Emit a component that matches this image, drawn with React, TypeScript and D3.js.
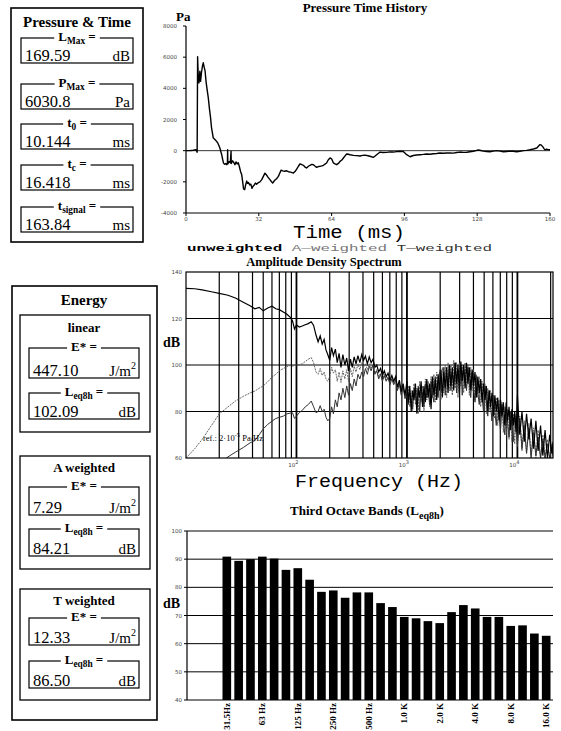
import React, { useEffect, useRef } from "react";
import * as d3 from "d3";

// ---------------- DATA ----------------
const timeMs = [0, 2, 3.2, 4.4, 4.9, 5.1, 5.4, 5.7, 6.1, 6.4, 6.8, 7.2, 7.6, 8.0, 8.4, 8.8, 9.3, 9.8, 10.3, 10.8, 11.2, 11.6, 12.0, 12.4, 12.8, 13.2, 13.6, 14.0, 14.4, 14.9, 15.3, 15.7, 16.1, 16.5, 17.0, 17.5, 17.9, 18.2, 18.3, 18.4, 19.0, 19.5, 19.8, 19.9, 20.5, 21.0, 21.5, 22.0, 22.5, 23.0, 23.5, 24.0, 24.5, 25.0, 25.3, 25.8, 26.2, 26.7, 27.1, 27.5, 28.0, 28.5, 29.0, 29.4, 30.0, 30.5, 31.0, 31.8, 32.5, 33.3, 34.0, 34.7, 35.3, 36.0, 36.9, 37.5, 38.1, 39.0, 39.8, 40.6, 41.2, 41.8, 42.5, 43.3, 44.2, 45.0, 46.0, 47.2, 48.0, 48.6, 49.4, 50.1, 50.9, 51.6, 52.3, 53.0, 53.8, 54.5, 55.3, 56.0, 56.8, 57.4, 58.2, 58.9, 59.7, 60.4, 61.1, 61.8, 62.5, 63.3, 64.0, 64.8, 65.5, 66.2, 67.0, 67.7, 68.5, 69.2, 70.0, 70.6, 71.4, 72.1, 73.6, 75.0, 76.5, 77.6, 78.7, 80.0, 80.9, 82.3, 83.0, 83.8, 85.3, 86.5, 88.2, 89.6, 91.1, 92.6, 94.1, 95.5, 96.2, 97.0, 98.5, 99.9, 101.4, 102.9, 104.3, 105.8, 107.3, 108.7, 110.2, 111.6, 113.1, 114.6, 116.0, 117.5, 119.0, 120.4, 121.9, 123.4, 124.8, 126.3, 127.4, 128.5, 129.6, 130.7, 132.1, 133.6, 135.1, 136.6, 138.0, 139.5, 141.0, 142.4, 143.9, 145.3, 146.8, 148.3, 149.7, 151.2, 152.7, 154.2, 155.0, 155.6, 156.2, 156.8, 157.3, 157.8, 158.5, 159.2, 160];
const pressurePa = [0, 10, 30, 60, -100, 6030, 4700, 4350, 5100, 4450, 5000, 5400, 5640, 5350, 5100, 4450, 3900, 3390, 2700, 2100, 1500, 1140, 810, 760, 700, 640, 560, 480, 350, 170, -50, -260, -550, -800, -880, -820, -900, -850, 60, -840, -700, -780, -40, -820, -650, -760, -900, -720, -850, -780, -1050, -1350, -1550, -2100, -2450, -2500, -2200, -1950, -2100, -2050, -2200, -2150, -2420, -2300, -2200, -2080, -2150, -2050, -2000, -1860, -1650, -1440, -1540, -1700, -1860, -1980, -2080, -1900, -1800, -1650, -1450, -1250, -1300, -1320, -1290, -1350, -1380, -1440, -1320, -1200, -1000, -840, -900, -940, -1050, -1110, -1000, -940, -880, -900, -1000, -1070, -1020, -1010, -980, -940, -860, -790, -600, -470, -520, -790, -850, -900, -820, -690, -600, -470, -320, -210, -230, -260, -300, -320, -340, -300, -290, -330, -360, -430, -360, -260, -90, -120, -110, -80, -90, -60, -40, -50, -150, -260, -390, -310, -280, -260, -240, -210, -230, -200, -180, -150, -170, -150, -140, -160, -120, -90, -110, -100, -70, -40, 0, 40, 10, -30, -50, -70, -30, 0, -30, -70, -50, -30, -40, -70, -40, 0, 20, 60, 110, 170, 300, 390, 350, 260, 150, 50, 90, 70, 60];
const pressureTicks = [8000, 6000, 4000, 2000, 0, -2000, -4000];
const timeTicks = [0, 32, 64, 96, 128, 160];

const specFreq = [
  10, 12, 14, 17, 20, 24, 28, 33, 38, 42, 46, 50, 55, 60, 65, 70, 76, 82, 88, 92, 96, 100, 106, 113, 120, 128, 136, 143, 150, 157, 164, 171, 178, 185, 192,
  200, 208, 216, 225, 234, 243, 253, 263, 274, 285, 296, 308, 320, 333, 346, 360, 375, 390, 405, 421, 438, 456, 474, 493, 513, 533, 555, 577, 600, 624, 649, 675, 702, 730, 759, 790, 821, 854, 888, 924, 961,
  1000, 1030, 1061, 1093, 1126, 1159, 1194, 1230, 1267, 1305, 1344, 1384, 1426, 1469, 1513, 1558, 1605, 1653, 1702, 1754, 1806, 1860, 1916, 1974, 2033, 2094, 2157, 2221, 2288, 2357, 2427, 2500, 2575, 2652, 2732, 2814, 2898, 2985, 3075, 3167, 3262, 3360, 3461, 3565, 3671, 3782, 3895, 4012, 4132, 4256, 4384, 4515, 4651, 4790, 4934, 5082, 5235, 5392, 5553, 5720, 5892, 6068, 6250, 6438, 6631, 6830, 7035, 7246, 7463, 7687, 7918, 8155, 8400, 8652, 8912, 9179, 9454, 9738,
  10000, 10500, 11000, 11550, 12100, 12700, 13300, 14000, 14700, 15400, 16200, 17000, 17800, 18700, 19600, 20500, 21000];
const specUnweighted = [
  133, 132.8, 132.3, 131.5, 130.8, 130, 128.8, 127, 125.5, 124.2, 124.8, 123.3, 124.5, 125.3, 124.2, 123.8, 122.8, 121.8, 120.5, 119, 115.5, 117.2, 116.3, 116.8, 117.3, 117.8, 118.6, 117, 113, 110, 112.5, 109, 111, 106.5, 104.5,
  102, 107.5, 104, 106.8, 101, 105, 99, 104.5, 100, 103, 97.5, 102.5, 99, 103.5, 100.5, 104, 101, 104.5, 102, 103.8, 100.5, 103.5, 101, 102.5, 99, 100, 97, 98.5, 95.5, 97.5, 95, 96.5, 93.5, 95.5, 93, 95, 90.5, 93.5, 88.5, 92, 87,
  93, 84, 91, 80, 89, 85, 92, 79, 90, 86, 93, 82, 91, 84, 94, 86, 92, 81, 95, 87, 94, 85, 96, 89, 98, 86, 97, 90, 99, 88, 100, 91, 99, 89, 101, 92, 100, 88, 101.5, 93, 100, 90, 101, 92, 99, 89, 98, 91, 97, 86, 95, 88, 94, 84, 92, 85, 91, 80, 89, 82, 88, 78, 87, 80, 86, 76, 85, 78, 84, 74, 84, 76, 82, 72, 81, 74, 80, 71,
  87, 70, 80, 67, 79, 68, 77, 64, 76, 63, 74, 61, 72, 60, 70, 62, 67];
const specAWeighted = [
  60, 64, 68, 74, 79, 82, 84.5, 86.5, 88, 88.8, 90, 91, 92.8, 94.8, 96, 97.5, 98.5, 99.3, 99.8, 99.5, 99.8, 100, 100.2, 100.5, 101.5, 102.5, 103.2, 101, 97, 96, 98.5, 95.5, 97, 94, 93,
  95, 99, 96.5, 98, 93, 97, 92.5, 97.5, 94, 98, 93, 98.5, 95, 99.5, 97, 100.5, 98, 101, 99, 100.5, 98, 100.5, 98.5, 100, 96.5, 98, 95, 96.5, 93.5, 96, 93.5, 95, 92, 94.5, 92, 94, 89.5, 92.5, 87.5, 91, 86,
  86, 91, 82, 89, 80, 92, 83, 90, 79, 93, 84, 91, 80, 94, 85, 93, 82, 95, 86, 96, 84, 97, 87, 98, 85, 99, 88, 100, 86, 101, 89, 100, 87, 102, 90, 101, 86, 101, 91, 100, 88, 101, 90, 100, 87, 99, 89, 98, 85, 96, 86, 95, 82, 93, 83, 92, 79, 90, 80, 89, 76, 87, 77, 86, 74, 85, 73, 84, 71, 82, 70, 81, 68, 80, 67, 79, 66, 78,
  65, 78, 63, 76, 62, 75, 61, 73, 60, 72, 60, 70, 60, 68, 60, 66, 60];
const specTWeighted = [
  45, 48, 51, 54.5, 57.5, 60.5, 62.5, 64.5, 66.5, 67.5, 70, 72.5, 74.5, 75.8, 77, 77.5, 78, 79, 79.3, 79.5, 77, 78, 79.5, 80.5, 82, 83, 84.5, 82, 79.5, 80, 82.5, 80, 81, 77.5, 76,
  77, 82, 79, 85, 82, 88, 85, 90, 86, 91, 87, 92, 89, 94, 91, 96, 94, 97, 95, 98.5, 96, 99.5, 97.5, 100, 96, 97.5, 94, 96, 93, 95.5, 93, 94.5, 91.5, 94, 91.5, 93.5, 89, 92, 87, 90.5, 85.5,
  90, 83, 88, 86, 81, 90, 87, 84, 91, 80, 89, 88, 82, 92, 86, 90, 83, 93, 88, 84, 95, 89, 86, 97, 90, 88, 99, 87, 95, 91, 100, 89, 97, 92, 101, 88, 98, 93, 100, 87, 99, 94, 89, 99, 92, 86, 97, 90, 84, 95, 88, 83, 93, 86, 80, 91, 84, 78, 89, 82, 76, 87, 80, 74, 85, 78, 72, 83, 76, 70, 82, 75, 69, 80, 73, 67, 79, 72,
  66, 77, 64, 74, 62, 73, 60, 71, 61, 69, 60, 68, 60, 66, 60, 64, 61];
const specDbTicks = [140, 120, 100, 80, 60];
const specGridFreqs = [20, 30, 40, 50, 60, 70, 80, 90, 100, 200, 300, 400, 500, 600, 700, 800, 900, 1000, 2000, 3000, 4000, 5000, 6000, 7000, 8000, 9000, 10000, 20000];
const specDecades = [100, 1000, 10000];
const specDecadeExponents = ["2", "3", "4"];

const bandNames = ["31.5", "40", "50", "63", "80", "100", "125", "160", "200", "250", "315", "400", "500", "630", "800", "1k", "1.25k", "1.6k", "2k", "2.5k", "3.15k", "4k", "5k", "6.3k", "8k", "10k", "12.5k", "16k"];
const bandLevels = [90.9, 89.4, 90.0, 90.9, 90.2, 86.2, 86.8, 82.7, 78.4, 78.9, 76.3, 78.2, 78.2, 74.4, 73.0, 69.5, 69.0, 68.0, 67.3, 71.2, 73.7, 72.5, 69.5, 69.5, 66.3, 66.5, 63.6, 62.8];
const bandTickLabels = ["31.5Hz", "", "", "63 Hz", "", "", "125 Hz", "", "", "250 Hz", "", "", "500 Hz", "", "", "1.0 K", "", "", "2.0 K", "", "", "4.0 K", "", "", "8.0 K", "", "", "16.0 K"];
const bandDbTicks = [100, 90, 80, 70, 60, 50, 40];

const ptSymbols = ["L", "P", "t", "t", "t"];
const ptSubs = ["Max", "Max", "0", "c", "signal"];
const ptValues = ["169.59", "6030.8", "10.144", "16.418", "163.84"];
const ptUnits = ["dB", "Pa", "ms", "ms", "ms"];

const energyTitles = ["linear", "A weighted", "T weighted"];
const energyE = ["447.10", "7.29", "12.33"];
const energyLeq = ["102.09", "84.21", "86.50"];

// ---------------- LAYOUT ----------------
const SERIF = "'Liberation Serif', 'Times New Roman', serif";
const MONO = "'Liberation Mono', 'Courier New', monospace";
const TICKF = "'DejaVu Sans', sans-serif";

const ptBoxTops = [38, 84, 124, 165, 207];
const energyLayout = [
  { top: 315, bottom: 432, title: 332, eTop: 348, eBot: 378, lTop: 393, lBot: 419 },
  { top: 456, bottom: 569, title: 472, eTop: 487, eBot: 515, lTop: 529, lBot: 556 },
  { top: 589, bottom: 700, title: 605, eTop: 618, eBot: 645, lTop: 661, lBot: 688 },
];

type Part = { t: string; sub?: boolean };

export default function App() {
  const ref = useRef<SVGSVGElement>(null);
  useEffect(() => {
    document.body.style.margin = "0";
    const svg = d3.select(ref.current!);
    svg.selectAll("*").remove();
    svg.append("rect").attr("width", 561).attr("height", 731).attr("fill", "#fff");

    const rect = (g: any, x: number, y: number, w: number, h: number, sw = 1.3) =>
      g.append("rect").attr("x", x).attr("y", y).attr("width", w).attr("height", h)
        .attr("fill", "none").attr("stroke", "#000").attr("stroke-width", sw);

    const boxLabel = (g: any, cx: number, baseline: number, parts: Part[], size: number) => {
      const t = g.append("text").attr("x", cx).attr("y", baseline).attr("text-anchor", "middle")
        .attr("font-family", SERIF).attr("font-weight", "bold").attr("font-size", size);
      let shift = 0;
      parts.forEach((p) => {
        const target = p.sub ? 3.5 : 0;
        t.append("tspan").text(p.t).attr("dy", target - shift).attr("font-size", p.sub ? size * 0.72 : size);
        shift = target;
      });
      const bb = (t.node() as SVGTextElement).getBBox();
      g.insert("rect", () => t.node()).attr("x", bb.x - 4).attr("y", bb.y + 2).attr("width", bb.width + 8)
        .attr("height", bb.height - 4).attr("fill", "#fff");
    };

    const valueBox = (g: any, x: number, w: number, top: number, bot: number, parts: Part[], value: string, unit: string, sup?: string) => {
      rect(g, x, top, w, bot - top, 1.2);
      boxLabel(g, x + w / 2, top + 2.5, parts, 13);
      g.append("text").attr("x", x + 4).attr("y", bot - 2).attr("font-family", SERIF)
        .attr("font-size", 16.5).text(value);
      const u = g.append("text").attr("x", x + w - 3).attr("y", bot - 2).attr("text-anchor", "end")
        .attr("font-family", SERIF).attr("font-size", 15);
      u.append("tspan").text(unit);
      if (sup) u.append("tspan").text(sup).attr("dy", -7).attr("font-size", 10);
    };

    // ---------- Pressure & Time panel ----------
    const pt = svg.append("g");
    rect(pt, 11, 8, 132, 234, 1.6);
    pt.append("text").attr("x", 77).attr("y", 27).attr("text-anchor", "middle").attr("font-family", SERIF)
      .attr("font-weight", "bold").attr("font-size", 15).text("Pressure & Time");
    ptValues.forEach((v, i) => {
      const top = ptBoxTops[i];
      valueBox(pt, 21, 112, top, top + 25, [{ t: ptSymbols[i] }, { t: ptSubs[i], sub: true }, { t: " =" }], v, ptUnits[i]);
    });

    // ---------- Energy panel ----------
    const en = svg.append("g");
    rect(en, 12, 286, 145, 434, 1.6);
    en.append("text").attr("x", 84).attr("y", 305).attr("text-anchor", "middle").attr("font-family", SERIF)
      .attr("font-weight", "bold").attr("font-size", 15).text("Energy");
    energyTitles.forEach((title, i) => {
      const L = energyLayout[i];
      rect(en, 20, L.top, 130, L.bottom - L.top, 1.3);
      en.append("text").attr("x", 84).attr("y", L.title).attr("text-anchor", "middle").attr("font-family", SERIF)
        .attr("font-weight", "bold").attr("font-size", 13).text(title);
      valueBox(en, 29, 110, L.eTop, L.eBot, [{ t: "E* =" }], energyE[i], "J/m", "2");
      valueBox(en, 29, 110, L.lTop, L.lBot, [{ t: "L" }, { t: "eq8h", sub: true }, { t: " =" }], energyLeq[i], "dB");
    });

    // ---------- Pressure time history ----------
    const xp = d3.scaleLinear().domain([0, 160]).range([186, 550]);
    const yp = d3.scaleLinear().domain([-4000, 8000]).range([213, 26]);
    const ph = svg.append("g");
    ph.append("text").attr("x", 365).attr("y", 12).attr("text-anchor", "middle").attr("font-family", SERIF)
      .attr("font-weight", "bold").attr("font-size", 13).text("Pressure Time History");
    ph.append("text").attr("x", 176).attr("y", 21).attr("font-family", SERIF).attr("font-weight", "bold")
      .attr("font-size", 13).text("Pa");
    ph.append("line").attr("x1", xp(0)).attr("x2", xp(0)).attr("y1", yp(8000)).attr("y2", yp(-4000)).attr("stroke", "#000").attr("stroke-width", 1.2);
    ph.append("line").attr("x1", xp(0)).attr("x2", xp(160)).attr("y1", yp(-4000)).attr("y2", yp(-4000)).attr("stroke", "#000").attr("stroke-width", 1.2);
    ph.append("line").attr("x1", xp(0)).attr("x2", xp(160)).attr("y1", yp(0)).attr("y2", yp(0)).attr("stroke", "#000").attr("stroke-width", 0.8);
    pressureTicks.forEach((v) => {
      ph.append("line").attr("x1", xp(0) - 3).attr("x2", xp(0)).attr("y1", yp(v)).attr("y2", yp(v)).attr("stroke", "#000");
      ph.append("text").attr("x", 177).attr("y", yp(v) + 2).attr("text-anchor", "end").attr("font-family", TICKF)
        .attr("font-size", 5.5).attr("fill", "#444").text(String(v));
    });
    timeTicks.forEach((v) => {
      ph.append("line").attr("x1", xp(v)).attr("x2", xp(v)).attr("y1", yp(-4000)).attr("y2", yp(-4000) + 3).attr("stroke", "#000");
      ph.append("text").attr("x", xp(v)).attr("y", 221).attr("text-anchor", "middle").attr("font-family", TICKF)
        .attr("font-size", 5.5).attr("fill", "#444").text(String(v));
    });
    const pline = d3.line<number>().x((_, i) => xp(timeMs[i])).y((d) => yp(d));
    ph.append("path").attr("d", pline(pressurePa)!).attr("fill", "none").attr("stroke", "#000").attr("stroke-width", 1.4)
      .attr("stroke-linejoin", "round");
    svg.append("text").attr("x", 349).attr("y", 238).attr("text-anchor", "middle").attr("font-family", MONO)
      .attr("font-size", 18).attr("textLength", 112).attr("lengthAdjust", "spacingAndGlyphs").text("Time (ms)");

    // ---------- Amplitude density spectrum ----------
    const xs = d3.scaleLog().domain([10, 21000]).range([186, 553]);
    const ys = d3.scaleLinear().domain([60, 140]).range([458, 272]);
    const sp = svg.append("g");
    const leg = sp.append("text").attr("x", 187).attr("y", 251).attr("font-family", MONO).attr("font-size", 9.5)
      .attr("textLength", 305).attr("lengthAdjust", "spacingAndGlyphs");
    leg.append("tspan").text("unweighted ").attr("font-weight", "bold").attr("fill", "#000");
    leg.append("tspan").text("A\u2014weighted ").attr("fill", "#777");
    leg.append("tspan").text("T\u2014weighted").attr("fill", "#333");
    sp.append("text").attr("x", 324).attr("y", 266).attr("text-anchor", "middle").attr("font-family", SERIF)
      .attr("font-weight", "bold").attr("font-size", 12.5).text("Amplitude Density Spectrum");
    sp.append("text").attr("x", 163).attr("y", 347).attr("font-family", SERIF).attr("font-weight", "bold")
      .attr("font-size", 14).text("dB");

    svg.append("defs").append("clipPath").attr("id", "specClip").append("rect")
      .attr("x", 186).attr("y", 272).attr("width", 553 - 186).attr("height", 458 - 272);
    const plot = sp.append("g").attr("clip-path", "url(#specClip)");
    specGridFreqs.forEach((f) => {
      plot.append("line").attr("x1", xs(f)).attr("x2", xs(f)).attr("y1", 272).attr("y2", 458)
        .attr("stroke", "#000").attr("stroke-width", specDecades.includes(f) ? 1.8 : 1.2);
    });
    [80, 100, 120].forEach((v) => {
      plot.append("line").attr("x1", 186).attr("x2", 553).attr("y1", ys(v)).attr("y2", ys(v))
        .attr("stroke", "#000").attr("stroke-width", 1);
    });
    const sline = (vals: number[]) => d3.line<number>().x((_, i) => xs(specFreq[i])).y((d) => ys(d))(vals)!;
    plot.append("path").attr("d", sline(specAWeighted)).attr("fill", "none").attr("stroke", "#555")
      .attr("stroke-width", 0.9).attr("stroke-dasharray", "2,1");
    plot.append("path").attr("d", sline(specTWeighted)).attr("fill", "none").attr("stroke", "#333")
      .attr("stroke-width", 1.0);
    plot.append("path").attr("d", sline(specUnweighted)).attr("fill", "none").attr("stroke", "#000")
      .attr("stroke-width", 1.2);
    rect(sp, 186, 272, 553 - 186, 458 - 272, 1.2);
    specDbTicks.forEach((v) => {
      sp.append("text").attr("x", 182).attr("y", ys(v) + 2).attr("text-anchor", "end").attr("font-family", TICKF)
        .attr("font-size", 5.5).attr("fill", "#444").text(String(v));
    });
    specDecades.forEach((f, i) => {
      const t = sp.append("text").attr("x", xs(f) - 3).attr("y", 467).attr("text-anchor", "middle")
        .attr("font-family", TICKF).attr("font-size", 5.5).attr("fill", "#444");
      t.append("tspan").text("10");
      t.append("tspan").text(specDecadeExponents[i]).attr("dy", -3).attr("font-size", 5);
    });
    const ref1 = sp.append("text").attr("x", 203).attr("y", 441).attr("font-family", SERIF).attr("font-size", 8.5);
    ref1.append("tspan").text("ref.: 2\u00b710");
    ref1.append("tspan").text("-5").attr("dy", -4).attr("font-size", 6.5);
    ref1.append("tspan").text(" Pa/Hz").attr("dy", 4);
    svg.append("text").attr("x", 379).attr("y", 487).attr("text-anchor", "middle").attr("font-family", MONO)
      .attr("font-size", 19).attr("textLength", 168).attr("lengthAdjust", "spacingAndGlyphs").text("Frequency (Hz)");

    // ---------- Third octave bands ----------
    const xb = d3.scaleBand<string>().domain(bandNames).range([222.5, 550.5]).paddingInner(0.27).paddingOuter(0);
    const yb = d3.scaleLinear().domain([40, 100]).range([700, 531]);
    const bc = svg.append("g");
    const tt = bc.append("text").attr("x", 367).attr("y", 515).attr("text-anchor", "middle").attr("font-family", SERIF)
      .attr("font-weight", "bold").attr("font-size", 13);
    tt.append("tspan").text("Third Octave Bands (L");
    tt.append("tspan").text("eq8h").attr("dy", 4).attr("font-size", 10);
    tt.append("tspan").text(")").attr("dy", -4);
    bc.append("text").attr("x", 163).attr("y", 608).attr("font-family", SERIF).attr("font-weight", "bold")
      .attr("font-size", 14).text("dB");
    bandDbTicks.forEach((v) => {
      if (v > 40) bc.append("line").attr("x1", 187).attr("x2", 553).attr("y1", yb(v)).attr("y2", yb(v))
        .attr("stroke", "#000").attr("stroke-width", 1);
      bc.append("line").attr("x1", 184).attr("x2", 187).attr("y1", yb(v)).attr("y2", yb(v)).attr("stroke", "#000");
      bc.append("text").attr("x", 182).attr("y", yb(v) + 2).attr("text-anchor", "end").attr("font-family", TICKF)
        .attr("font-size", 5.5).attr("fill", "#444").text(String(v));
    });
    bandLevels.forEach((v, i) => {
      bc.append("rect").attr("x", xb(bandNames[i])!).attr("y", yb(v)).attr("width", xb.bandwidth())
        .attr("height", yb(40) - yb(v)).attr("fill", "#000");
    });
    bc.append("line").attr("x1", 187).attr("x2", 187).attr("y1", yb(100)).attr("y2", yb(40)).attr("stroke", "#000").attr("stroke-width", 1.2);
    bc.append("line").attr("x1", 187).attr("x2", 553).attr("y1", yb(40)).attr("y2", yb(40)).attr("stroke", "#000").attr("stroke-width", 1.2);
    bandTickLabels.forEach((lab, i) => {
      if (!lab) return;
      const cx = xb(bandNames[i])! + xb.bandwidth() / 2;
      bc.append("text").attr("transform", `translate(${cx + 3},${703}) rotate(-90)`).attr("text-anchor", "end")
        .attr("font-family", SERIF).attr("font-weight", "bold").attr("font-size", 9).text(lab);
    });
  }, []);
  return <svg ref={ref} width={561} height={731} style={{ position: "absolute", left: 0, top: 0, display: "block" }} />;
}
